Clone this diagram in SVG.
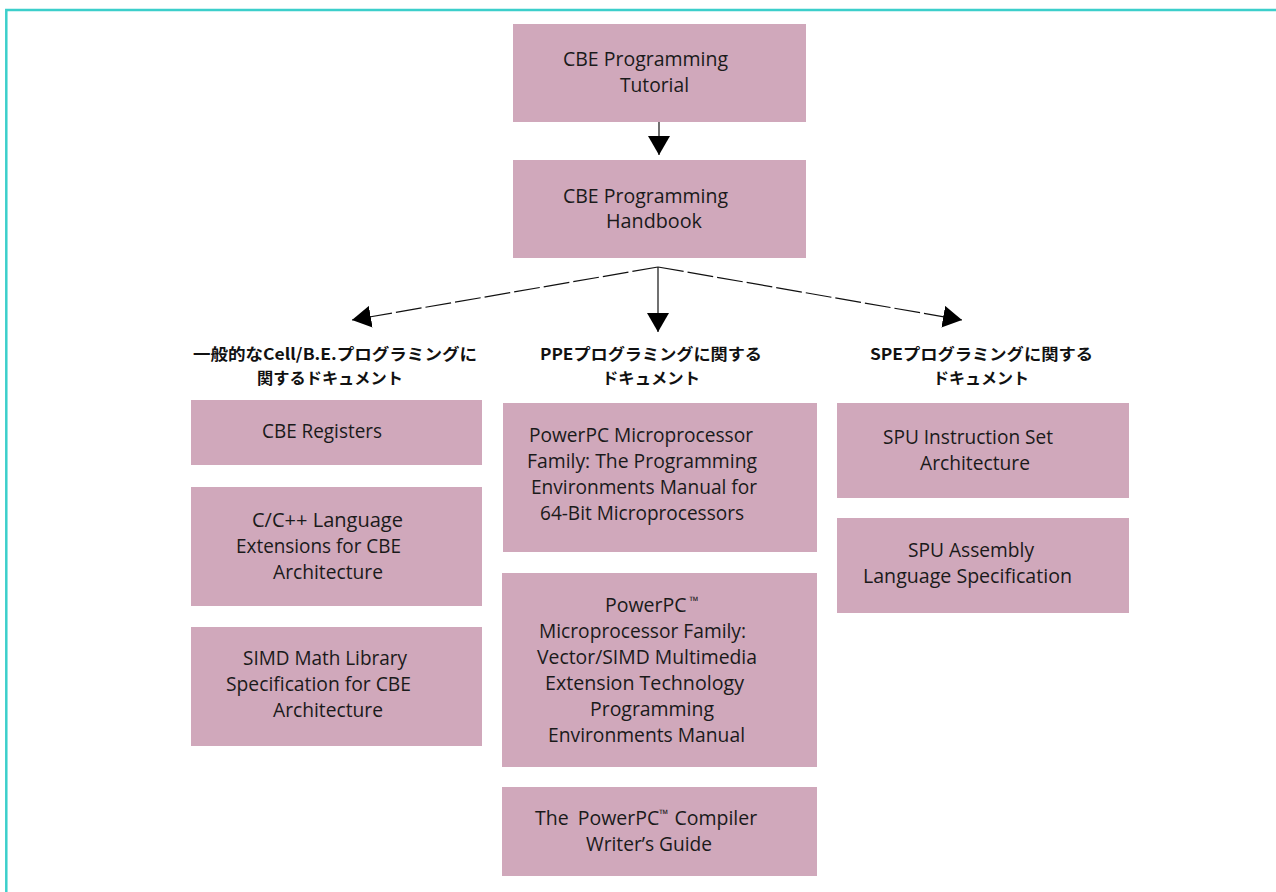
<svg xmlns="http://www.w3.org/2000/svg" width="1276" height="892" viewBox="0 0 1276 892">
<style>
.box{fill:#d0a8bb;}
.t{font-family:"Open Sans","Liberation Sans",sans-serif;font-size:19.5px;fill:#1a1a1a;}
.h{font-family:"Noto Sans CJK JP","Noto Sans",sans-serif;font-size:16px;font-weight:bold;fill:#111;}
.c{stroke:#111;stroke-width:1.2;fill:none;}
.d{stroke-dasharray:26 4;}
.border{stroke:#3ccfcb;stroke-width:2.5;fill:none;}
</style>
<defs>
<marker id="ah" markerUnits="userSpaceOnUse" markerWidth="20" markerHeight="22" refX="19" refY="11" orient="auto" viewBox="0 0 20 22">
<path d="M0,0 L19,11 L0,22 z" fill="#000"/>
</marker>
</defs>
<rect width="1276" height="892" fill="#fff"/>
<path class="border" d="M6.3,892 L6.3,10 L1276,10"/>

<g id="connectors">
<line class="c" x1="659" y1="122" x2="659" y2="155" marker-end="url(#ah)"/>
<line class="c" x1="658" y1="267" x2="658" y2="332" marker-end="url(#ah)"/>
<line class="c d" x1="658" y1="267" x2="352" y2="320" marker-end="url(#ah)"/>
<line class="c d" x1="658" y1="267" x2="962" y2="320" marker-end="url(#ah)"/>
</g>

<g id="tutorial">
<rect class="box" x="513" y="24" width="293" height="98"/>
<text class="t" x="563" y="66" textLength="165" lengthAdjust="spacingAndGlyphs">CBE Programming</text>
<text class="t" x="620" y="92" textLength="69" lengthAdjust="spacingAndGlyphs">Tutorial</text>
</g>

<g id="handbook">
<rect class="box" x="513" y="160" width="293" height="98"/>
<text class="t" x="563" y="203" textLength="165" lengthAdjust="spacingAndGlyphs">CBE Programming</text>
<text class="t" x="606" y="228" textLength="96" lengthAdjust="spacingAndGlyphs">Handbook</text>
</g>

<g id="header-general">
<text class="h" x="193" y="360" textLength="284" lengthAdjust="spacingAndGlyphs">一般的なCell/B.E.プログラミングに</text>
<text class="h" x="257" y="384" textLength="146" lengthAdjust="spacingAndGlyphs">関するドキュメント</text>
</g>
<g id="header-ppe">
<text class="h" x="540" y="360" textLength="222" lengthAdjust="spacingAndGlyphs">PPEプログラミングに関する</text>
<text class="h" x="602" y="384" textLength="98" lengthAdjust="spacingAndGlyphs">ドキュメント</text>
</g>
<g id="header-spe">
<text class="h" x="870" y="360" textLength="223" lengthAdjust="spacingAndGlyphs">SPEプログラミングに関する</text>
<text class="h" x="933" y="384" textLength="96" lengthAdjust="spacingAndGlyphs">ドキュメント</text>
</g>

<g id="cbe-registers">
<rect class="box" x="191" y="400" width="291" height="65"/>
<text class="t" x="262" y="438" textLength="120" lengthAdjust="spacingAndGlyphs">CBE Registers</text>
</g>
<g id="c-cpp-extensions">
<rect class="box" x="191" y="487" width="291" height="119"/>
<text class="t" x="252" y="527" textLength="151" lengthAdjust="spacingAndGlyphs">C/C++ Language</text>
<text class="t" x="236" y="553" textLength="165" lengthAdjust="spacingAndGlyphs">Extensions for CBE</text>
<text class="t" x="273" y="579" textLength="110" lengthAdjust="spacingAndGlyphs">Architecture</text>
</g>
<g id="simd-math">
<rect class="box" x="191" y="627" width="291" height="119"/>
<text class="t" x="243" y="665" textLength="164" lengthAdjust="spacingAndGlyphs">SIMD Math Library</text>
<text class="t" x="226" y="691" textLength="185" lengthAdjust="spacingAndGlyphs">Specification for CBE</text>
<text class="t" x="273" y="717" textLength="110" lengthAdjust="spacingAndGlyphs">Architecture</text>
</g>

<g id="powerpc-64bit">
<rect class="box" x="503" y="403" width="314" height="149"/>
<text class="t" x="529" y="442" textLength="224" lengthAdjust="spacingAndGlyphs">PowerPC Microprocessor</text>
<text class="t" x="527" y="468" textLength="230" lengthAdjust="spacingAndGlyphs">Family: The Programming</text>
<text class="t" x="531" y="494" textLength="226" lengthAdjust="spacingAndGlyphs">Environments Manual for</text>
<text class="t" x="540" y="520" textLength="204" lengthAdjust="spacingAndGlyphs">64-Bit Microprocessors</text>
</g>
<g id="powerpc-vmx">
<rect class="box" x="502" y="573" width="315" height="194"/>
<text class="t" x="605" y="612">PowerPC<tspan font-size="12" dy="-7" dx="3">™</tspan></text>
<text class="t" x="539" y="638" textLength="207" lengthAdjust="spacingAndGlyphs">Microprocessor Family:</text>
<text class="t" x="537" y="664" textLength="220" lengthAdjust="spacingAndGlyphs">Vector/SIMD Multimedia</text>
<text class="t" x="545" y="690" textLength="199" lengthAdjust="spacingAndGlyphs">Extension Technology</text>
<text class="t" x="590" y="716" textLength="124" lengthAdjust="spacingAndGlyphs">Programming</text>
<text class="t" x="548" y="742" textLength="197" lengthAdjust="spacingAndGlyphs">Environments Manual</text>
</g>
<g id="powerpc-compiler">
<rect class="box" x="502" y="787" width="315" height="89"/>
<text class="t" x="535" y="825">The <tspan dx="4">PowerPC</tspan><tspan font-size="12" dy="-7">™</tspan><tspan dy="7" dx="6">Compiler</tspan></text>
<text class="t" x="586" y="851" textLength="126" lengthAdjust="spacingAndGlyphs">Writer’s Guide</text>
</g>

<g id="spu-isa">
<rect class="box" x="837" y="403" width="292" height="95"/>
<text class="t" x="883" y="444" textLength="170" lengthAdjust="spacingAndGlyphs">SPU Instruction Set</text>
<text class="t" x="920" y="470" textLength="110" lengthAdjust="spacingAndGlyphs">Architecture</text>
</g>
<g id="spu-assembly">
<rect class="box" x="837" y="518" width="292" height="95"/>
<text class="t" x="908" y="557" textLength="126" lengthAdjust="spacingAndGlyphs">SPU Assembly</text>
<text class="t" x="863" y="583" textLength="209" lengthAdjust="spacingAndGlyphs">Language Specification</text>
</g>
</svg>
